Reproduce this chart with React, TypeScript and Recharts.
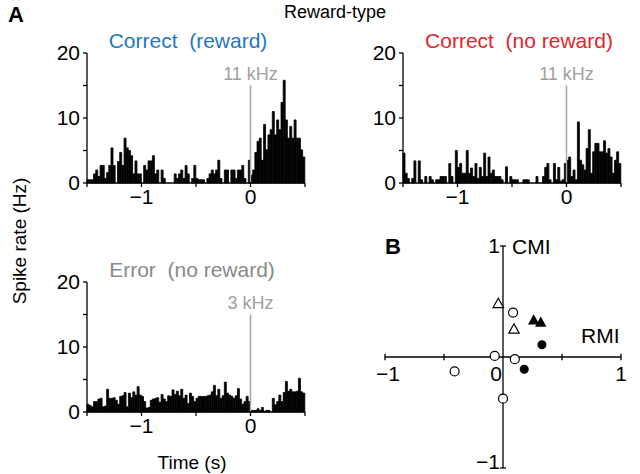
import React from "react";
import {
  BarChart,
  Bar,
  XAxis,
  YAxis,
  ReferenceLine,
  ReferenceDot,
  ScatterChart,
  Scatter,
} from "recharts";

const FONT = "Arial, 'Liberation Sans', Helvetica, sans-serif";

// time axis (s), 20 ms bins from -1.5 to 0.5
const binStart = -1.5;
const binWidth = 0.02;
const timeTicks = [-1.5, -1, -0.5, 0, 0.5];
const timeTickLabels = ["", "−1", "", "0", ""];
const rateTicks = [0, 5, 10, 15, 20];
const rateTickLabels = ["0", "", "10", "", "20"];

// spike rate (Hz) per bin
const correctRewardRates = [
  0.5, 0.5, 0.5, 1.4, 2, 1, 2.7, 2.7, 0.7, 1.6,
  2.7, 5.4, 2.7, 0, 3.3, 4.7, 2.7, 6.9, 5.4, 5,
  4.2, 1.4, 3.4, 1.4, 1.4, 0, 2.7, 2, 3.4, 3.4,
  4.2, 1.4, 2, 0, 2, 0.7, 0, 0, 0, 0,
  1.4, 0.7, 1.4, 2, 0.7, 2.7, 1.4, 0, 0.7, 2.7,
  0.7, 0.5, 0.5, 0.5, 0, 0.7, 1.4, 2, 1.4, 2,
  3.5, 0.7, 0, 2, 2, 0, 2, 2, 0.7, 2,
  2, 2.7, 0.7, 0, 3.5, 1.2, 2, 4.7, 6.4, 6.9,
  3.5, 9, 5.1, 7.4, 8.2, 11, 7.4, 9.7, 8.2, 12.4,
  15.8, 9.7, 6.9, 8.7, 6.9, 9.7, 6.9, 6.9, 5.1, 4,
];

const correctNoRewardRates = [
  4.6, 1.5, 0.7, 0, 0.7, 3.4, 0, 3.4, 0.5, 0,
  1, 0, 1, 0.5, 0, 0.5, 0.5, 1, 1, 1,
  0, 3, 1, 0, 5, 2.4, 3, 1.5, 1.5, 5,
  1.5, 2.3, 1, 3, 0.7, 2.4, 1, 4.6, 1, 4,
  1.5, 2, 1, 1, 1, 0.5, 0, 2.5, 0, 1,
  0.5, 0.5, 0.5, 0, 0, 0.5, 0.5, 0.5, 0, 0,
  0, 1, 0, 0, 1, 2.4, 3, 0.5, 0, 3,
  0.5, 2.4, 0.3, 0.5, 3, 3.5, 4, 1, 2, 0.5,
  9.4, 3.5, 2.8, 2, 5.3, 8.2, 1.5, 4.8, 6.1, 6.1,
  4.8, 4.8, 6.5, 4.6, 5.3, 4, 1.5, 3.5, 4.8, 3,
];

const errorRates = [
  1.2, 1, 0.8, 1.6, 1.6, 2, 2.1, 0.8, 0.9, 3.5,
  2.1, 2.1, 2.2, 1.8, 1.2, 2.4, 2.5, 3, 0.8, 2.9,
  2.2, 3.1, 2.6, 3.9, 2.6, 2.4, 1.6, 0.6, 0.7, 1.8,
  2, 2.1, 2.2, 1.5, 2.7, 2, 1.6, 2.5, 2.4, 3.4,
  2.7, 3.2, 2.5, 3.5, 2.1, 2.6, 1.3, 2.9, 2.4, 1.6,
  2.1, 2.4, 2.4, 2.4, 2.4, 2.5, 2.6, 3.1, 4.1, 2.5,
  3.5, 2.1, 2.5, 4.6, 2.9, 2.6, 2.4, 2.1, 2.5, 3.6,
  2, 1.2, 1.6, 2.4, 1.6, 0.25, 0.25, 0.25, 0.5, 0.25,
  0.7, 0.1, 0.25, 0.25, 0, 2.1, 1.1, 1.6, 2.6, 1.6,
  3, 4.7, 3.2, 3.5, 3.1, 3.1, 3.2, 5.2, 3.1, 2.9,
];

// panel B: reward modulation index vs. choice modulation index
const openCircles = [
  { x: 0.085, y: 0.4 },
  { x: -0.07, y: 0.01 },
  { x: 0.1, y: -0.02 },
  { x: -0.41, y: -0.13 },
  { x: 0, y: -0.375 },
];
const openTriangles = [
  { x: -0.04, y: 0.48 },
  { x: 0.093, y: 0.25 },
];
const filledTriangles = [
  { x: 0.26, y: 0.33 },
  { x: 0.32, y: 0.31 },
];
const filledCircles = [
  { x: 0.33, y: 0.11 },
  { x: 0.18, y: -0.11 },
];
const rmiTicks = [-1, -0.5, 0.5, 1];
const rmiTickLabels = [
  { v: -1, text: "−1" },
  { v: 0, text: "0" },
  { v: 1, text: "1" },
];
const cmiTicks = [-1, 1];
const cmiTickLabels = [
  { v: 1, text: "1" },
  { v: -1, text: "−1" },
];

function Psth({ rates, left, top, cue }: { rates: number[]; left: number; top: number; cue: string }) {
  const data = rates.map((v, i) => ({ bin: i, t: binStart + (i + 0.5) * binWidth, v }));
  return (
    <div style={{ position: "absolute", left: left - 47, top: top - 16 }}>
      <BarChart
        width={285}
        height={181}
        data={data}
        margin={{ top: 16, right: 20, bottom: 5, left: 17 }}
        barCategoryGap={0}
        barGap={0}
      >
        <XAxis
          xAxisId="time"
          dataKey="t"
          type="number"
          domain={[-1.5, 0.5]}
          ticks={timeTicks}
          interval={0}
          allowDataOverflow
          height={30}
          tickSize={4}
          tickFormatter={(v) => timeTickLabels[timeTicks.indexOf(v)]}
          axisLine={{ stroke: "#000", strokeWidth: 1.3 }}
          tickLine={{ stroke: "#000", strokeWidth: 1.3 }}
          tick={{ fill: "#000", fontSize: 21, fontFamily: FONT }}
        />
        <XAxis xAxisId="bins" dataKey="bin" hide height={0} />
        <YAxis
          domain={[0, 20]}
          ticks={rateTicks}
          interval={0}
          width={30}
          tickSize={4}
          tickMargin={3}
          tickFormatter={(v) => rateTickLabels[rateTicks.indexOf(v)]}
          axisLine={{ stroke: "#000", strokeWidth: 1.3 }}
          tickLine={{ stroke: "#000", strokeWidth: 1.3 }}
          tick={{ fill: "#000", fontSize: 21, fontFamily: FONT }}
        />
        <Bar xAxisId="bins" dataKey="v" fill="#000" stroke="#000" strokeWidth={0.8} isAnimationActive={false} />
        <ReferenceLine
          xAxisId="time"
          segment={[{ x: 0, y: 0 }, { x: 0, y: 15 }]}
          stroke="#a6a6a6"
          strokeWidth={1.5}
          label={{ value: cue, position: "top", offset: 6, fill: "#a0a0a0", fontSize: 18, fontFamily: FONT }}
        />
      </BarChart>
    </div>
  );
}

const openCircleShape = (p: any) => (
  <circle cx={p.cx} cy={p.cy} r={4.5} fill="#fff" stroke="#000" strokeWidth={1.2} />
);
const filledCircleShape = (p: any) => <circle cx={p.cx} cy={p.cy} r={4.5} fill="#000" />;
const triPath = (cx: number, cy: number, s: number) =>
  `M${cx},${cy - s} L${cx - s * 0.95},${cy + s * 0.7} L${cx + s * 0.95},${cy + s * 0.7} Z`;
const openTriangleShape = (p: any) => (
  <path d={triPath(p.cx, p.cy, 5.5)} fill="#fff" stroke="#000" strokeWidth={1.2} />
);
const filledTriangleShape = (p: any) => <path d={triPath(p.cx, p.cy, 6)} fill="#000" />;

const textStyle = { fontFamily: FONT, fontSize: 21, fill: "#000" };

function ModulationPlot() {
  return (
    <div style={{ position: "absolute", left: 370, top: 230 }}>
      <ScatterChart width={270} height={244} margin={{ top: 16, right: 19, bottom: 6, left: 15 }}>
        <XAxis type="number" dataKey="x" domain={[-1, 1]} hide />
        <YAxis type="number" dataKey="y" domain={[-1, 1]} hide />
        <ReferenceLine
          segment={[{ x: -1, y: 0 }, { x: 1, y: 0 }]}
          stroke="#000"
          strokeWidth={1.3}
          label={(p: any) => (
            <text x={p.viewBox.x + p.viewBox.width - 40} y={p.viewBox.y - 14} {...textStyle}>
              RMI
            </text>
          )}
        />
        <ReferenceLine
          segment={[{ x: 0, y: -1 }, { x: 0, y: 1 }]}
          stroke="#000"
          strokeWidth={1.3}
          label={(p: any) => (
            <text x={p.viewBox.x + 9} y={p.viewBox.y + 8} {...textStyle}>
              CMI
            </text>
          )}
        />
        {rmiTicks.map((t) => (
          <ReferenceLine
            key={`rt${t}`}
            segment={[{ x: t, y: -0.03 }, { x: t, y: 0.03 }]}
            stroke="#000"
            strokeWidth={1.3}
          />
        ))}
        {cmiTicks.map((t) => (
          <ReferenceLine
            key={`ct${t}`}
            segment={[{ x: -0.025, y: t }, { x: 0.025, y: t }]}
            stroke="#000"
            strokeWidth={1.3}
          />
        ))}
        {rmiTickLabels.map((l) => (
          <ReferenceDot
            key={`rl${l.v}`}
            x={l.v}
            y={0}
            r={0}
            fill="none"
            stroke="none"
            label={(p: any) => (
              <text
                x={p.viewBox.x + (l.v === 0 ? -7 : l.v < 0 ? 3 : 0)}
                y={p.viewBox.y + 24}
                textAnchor="middle"
                {...textStyle}
              >
                {l.text}
              </text>
            )}
          />
        ))}
        {cmiTickLabels.map((l) => (
          <ReferenceDot
            key={`cl${l.v}`}
            x={0}
            y={l.v}
            r={0}
            fill="none"
            stroke="none"
            label={(p: any) => (
              <text
                x={p.viewBox.x - 3}
                y={p.viewBox.y + (l.v < 0 ? 1 : 7)}
                textAnchor="end"
                {...textStyle}
              >
                {l.text}
              </text>
            )}
          />
        ))}
        <Scatter data={openCircles} shape={openCircleShape} isAnimationActive={false} />
        <Scatter data={openTriangles} shape={openTriangleShape} isAnimationActive={false} />
        <Scatter data={filledTriangles} shape={filledTriangleShape} isAnimationActive={false} />
        <Scatter data={filledCircles} shape={filledCircleShape} isAnimationActive={false} />
      </ScatterChart>
    </div>
  );
}

export default function App() {
  return (
    <div
      style={{
        position: "absolute",
        left: 0,
        top: 0,
        width: 640,
        height: 474,
        background: "#fff",
        overflow: "hidden",
        fontFamily: FONT,
      }}
    >
      <Psth rates={correctRewardRates} left={87} top={53} cue="11 kHz" />
      <Psth rates={correctNoRewardRates} left={403} top={53} cue="11 kHz" />
      <Psth rates={errorRates} left={87} top={282} cue="3 kHz" />
      <ModulationPlot />
      <svg
        width={640}
        height={474}
        style={{ position: "absolute", left: 0, top: 0, pointerEvents: "none" }}
      >
        <g fontFamily={FONT}>
          <text x={8} y={22} fontSize={22} fontWeight="bold">A</text>
          <text x={385} y={254} fontSize={22} fontWeight="bold">B</text>
          <text x={335} y={18} fontSize={18} textAnchor="middle">Reward-type</text>
          <text x={188} y={48} fontSize={21} textAnchor="middle" fill="#1f78c1">{"Correct\u00a0\u00a0(reward)"}</text>
          <text x={519} y={48} fontSize={21} textAnchor="middle" fill="#e2252b">{"Correct\u00a0\u00a0(no reward)"}</text>
          <text x={192} y={277} fontSize={21} textAnchor="middle" fill="#8a8a8a">{"Error\u00a0\u00a0(no reward)"}</text>
          <text
            x={19}
            y={241}
            fontSize={19}
            textAnchor="middle"
            dominantBaseline="central"
            transform="rotate(-90 19 241)"
          >
            Spike rate (Hz)
          </text>
          <text x={192} y={469} fontSize={19} textAnchor="middle">Time (s)</text>
        </g>
      </svg>
    </div>
  );
}
